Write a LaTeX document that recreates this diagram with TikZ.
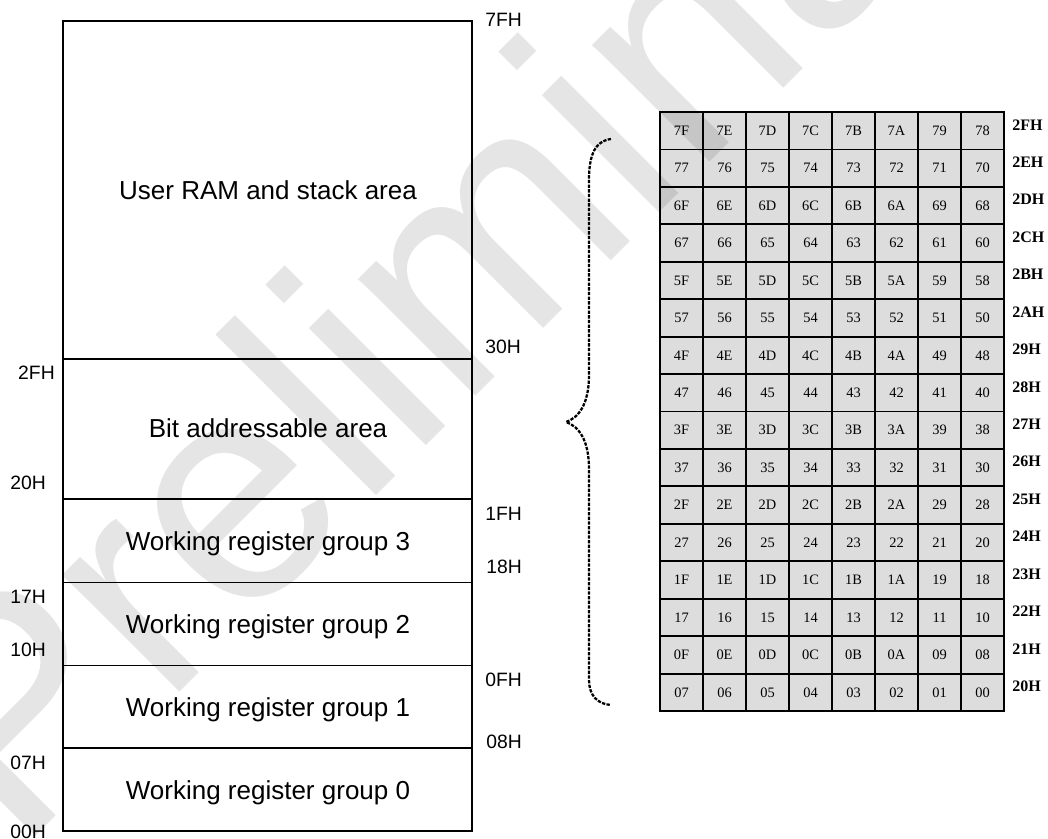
\documentclass[tikz,border=0pt]{standalone}
\usepackage{fontspec}
\setmainfont{Liberation Serif}
\newfontfamily\arialfont{Liberation Sans}
\usetikzlibrary{positioning}
\definecolor{cellgray}{RGB}{221,221,221}

\begin{document}
\begin{tikzpicture}[x=0.75pt,y=-0.75pt,
  area/.style={font=\arialfont\fontsize{19.5}{22}\selectfont, text depth=0pt},
  addr/.style={font=\arialfont\fontsize{14.5}{16}\selectfont, inner sep=0pt},
  bitcell/.style={draw, line width=1.4pt, fill=cellgray, minimum width=32.25pt,
    minimum height=28.08pt, inner sep=0pt, font=\fontsize{10.8}{12}\selectfont},
  rowaddr/.style={font=\bfseries\fontsize{12}{14}\selectfont, anchor=west, inner sep=0pt}]

\useasboundingbox (0,0) rectangle (1048,838);

% memory map
\draw[line width=1pt] (63,21) rectangle (472,831);
\foreach \yy in {359,499,582.5,665.5,748}
  {\draw[line width=1pt] (63,\yy) -- (472,\yy);}

\node[area] (ram) at (268,190) {User RAM and stack area};
\node[area] (bitarea) at (268,428) {Bit addressable area};
\node[area] (grp3) at (268,541) {Working register group 3};
\node[area] (grp2) at (268,624) {Working register group 2};
\node[area] (grp1) at (268,707) {Working register group 1};
\node[area] (grp0) at (268,790) {Working register group 0};

% addresses on the right
\node[addr, anchor=west] (a7F) at (485,20) {7FH};
\node[addr, anchor=west] (a30) at (485,347) {30H};
\node[addr, anchor=west] (a1F) at (485,514) {1FH};
\node[addr, anchor=west] (a18) at (486,567) {18H};
\node[addr, anchor=west] (a0F) at (485,680) {0FH};
\node[addr, anchor=west] (a08) at (486,742) {08H};

% addresses on the left
\node[addr, anchor=east] (a2F) at (55,373) {2FH};
\node[addr, anchor=east] (a20) at (46,483) {20H};
\node[addr, anchor=east] (a17) at (46,597) {17H};
\node[addr, anchor=east] (a10) at (46,650) {10H};
\node[addr, anchor=east] (a07) at (46,763) {07H};
\node[addr, anchor=east] (a00) at (46,832) {00H};

% bit addresses
\foreach \r in {0,...,15}
  {\foreach \c in {0,...,7}
    {\pgfmathtruncatemacro\cv{127-8*\r-\c}
     \pgfmathparse{Hex(\cv)}\edef\cl{\ifnum\cv<16 0\fi\pgfmathresult}
     \node[bitcell] (cell-\r-\c) at ({681.5+43*\c},{130.72+37.44*\r}) {\cl};}
   \pgfmathparse{Hex(47-\r)}\edef\rl{\pgfmathresult H}
   \node[rowaddr] (row-\r) at (1012,{124.72+37.44*\r}) {\rl};}

% brace
\draw[line width=1.7pt, dash pattern=on 2.5pt off 1pt]
  (611,139) .. controls (595,141) and (589,155) .. (589,180) -- (589,375)
  .. controls (589,405) and (578,418) .. (566,422)
  .. controls (578,426) and (589,439) .. (589,469) -- (589,680)
  .. controls (589,695) and (597,704) .. (611,705);

% watermark
\begin{scope}
\clip (0,0) rectangle (1048,838);
\node[font=\arialfont\fontsize{235}{240}\selectfont, text opacity=0.1,
  anchor=base west, inner sep=0pt, rotate=45] (mark) at (17,855) {Preliminary};
\end{scope}
\end{tikzpicture}
\end{document}
